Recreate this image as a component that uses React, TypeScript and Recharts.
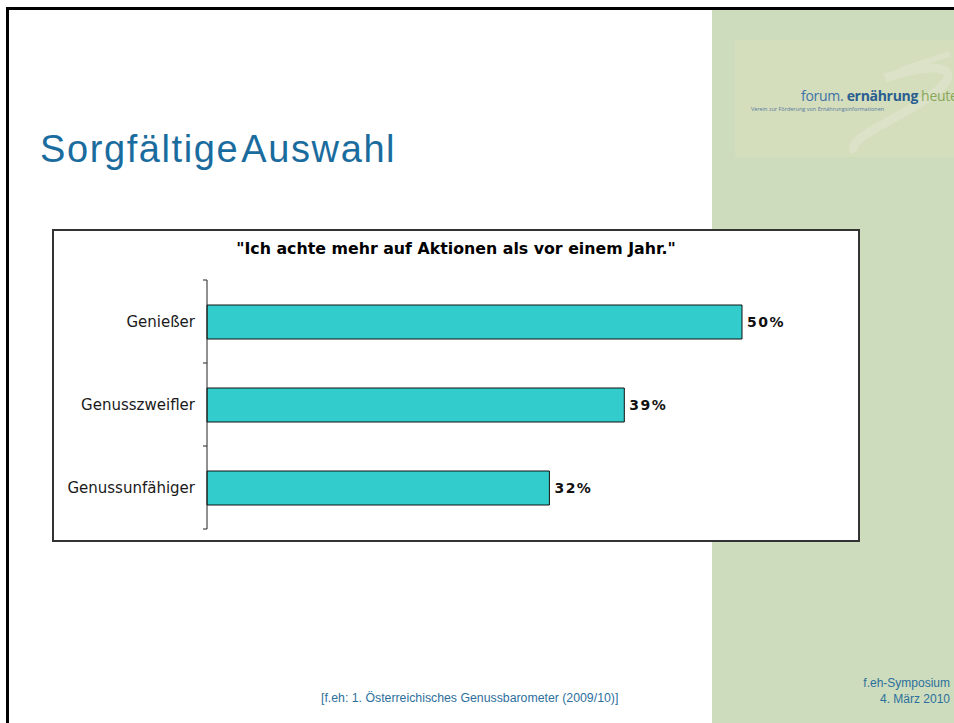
import React from 'react';
import { BarChart, Bar, XAxis, YAxis, LabelList } from 'recharts';

// Umfrage: "Ich achte mehr auf Aktionen als vor einem Jahr."
const groups = ['Genießer', 'Genusszweifler', 'Genussunfähiger'];
const shares = [50, 39, 32];
const axisMax = 60;

const data = groups.map((group, i) => ({ group, share: shares[i] }));

const TICK_SIZE = 4;
const TICK_MARGIN = 8;

const CategoryTick = (props: any) => {
  const { x, y, payload, index } = props;
  const axisX = x + TICK_SIZE + TICK_MARGIN;
  const half = payload && payload.offset ? payload.offset : 41.5;
  return (
    <g>
      <line x1={axisX - TICK_SIZE} y1={y - half} x2={axisX} y2={y - half} stroke="#222" />
      {index === groups.length - 1 && (
        <line x1={axisX - TICK_SIZE} y1={y + half} x2={axisX} y2={y + half} stroke="#222" />
      )}
      <text x={x} y={y} dy="0.355em" textAnchor="end" fontSize={15} fill="#1a1a1a" fontFamily="DejaVu Sans, Verdana, sans-serif">
        {payload.value}
      </text>
    </g>
  );
};

const App: React.FC = () => {
  return (
    <div style={{ position: 'absolute', left: 0, top: 0, width: 954, height: 723, background: '#fff', overflow: 'hidden' }}>
      {/* slide frame */}
      <div style={{ position: 'absolute', left: 6, top: 7, width: 960, height: 3, background: '#000' }} />
      <div style={{ position: 'absolute', left: 6, top: 7, width: 3, height: 730, background: '#000' }} />

      {/* green side panel with logo */}
      <div style={{ position: 'absolute', left: 712, top: 10, width: 250, height: 720, background: '#ccdcbc' }} />
      <div style={{ position: 'absolute', left: 735, top: 40, width: 230, height: 117, background: '#d4ddbc' }}>
        <svg width={230} height={117} style={{ position: 'absolute', left: 0, top: 0 }}>
          <path d="M 150 38 C 210 18, 235 30, 190 60 C 150 85, 110 100, 120 112" stroke="#dbe2c8" strokeWidth={9} fill="none" />
          <path d="M 165 30 L 215 14" stroke="#dbe2c8" strokeWidth={6} fill="none" />
        </svg>
        <div style={{ position: 'absolute', left: 66, top: 46, fontFamily: 'Open Sans, sans-serif', fontSize: 14, whiteSpace: 'nowrap', letterSpacing: -0.3, lineHeight: '19px' }}>
          <span style={{ color: '#3d72a8' }}>forum. </span>
          <span style={{ color: '#2a5d90', fontWeight: 700 }}>ernährung</span>
          <span style={{ color: '#8aa85a', marginLeft: 3 }}>heute</span>
        </div>
        <div style={{ position: 'absolute', left: 16, top: 65, fontFamily: 'Open Sans, sans-serif', fontSize: 5.5, color: '#5a7aa0', whiteSpace: 'nowrap' }}>
          Verein zur Förderung von Ernährungsinformationen
        </div>
      </div>

      {/* slide title */}
      <div style={{ position: 'absolute', left: 40, top: 126, fontFamily: 'Liberation Sans, Arial, sans-serif', fontSize: 38, letterSpacing: 1.6, color: '#1b6c9e', whiteSpace: 'nowrap', wordSpacing: -8, lineHeight: '46px' }}>
        Sorgfältige Auswahl
      </div>

      {/* chart box */}
      <div style={{ position: 'absolute', left: 52, top: 229, width: 808, height: 313, border: '2px solid #333', boxSizing: 'border-box', background: '#fff' }} />
      <div style={{ position: 'absolute', left: 52, top: 240, width: 808, textAlign: 'center', fontFamily: 'DejaVu Sans, Verdana, sans-serif', fontWeight: 700, fontSize: 15.8, color: '#000', lineHeight: '18px' }}>
        "Ich achte mehr auf Aktionen als vor einem Jahr."
      </div>
      <div style={{ position: 'absolute', left: 52, top: 229 }}>
        <BarChart width={808} height={313} data={data} layout="vertical" margin={{ top: 51, right: 11, bottom: 13, left: 0 }}>
          <XAxis type="number" domain={[0, axisMax]} hide />
          <YAxis
            type="category"
            dataKey="group"
            width={155}
            axisLine={{ stroke: '#222' }}
            tickLine={false}
            tickSize={TICK_SIZE}
            tickMargin={TICK_MARGIN}
            tick={<CategoryTick />}
          />
          <Bar dataKey="share" fill="#33cccc" stroke="#111" strokeWidth={1} barSize={34} isAnimationActive={false}>
            <LabelList
              dataKey="share"
              position="right"
              offset={5}
              formatter={(v: any) => `${v}%`}
              fill="#111"
              fontSize={14}
              fontWeight={700}
              letterSpacing={1.5}
              fontFamily="DejaVu Sans, Verdana, sans-serif"
            />
          </Bar>
        </BarChart>
      </div>

      {/* footer */}
      <div style={{ position: 'absolute', left: 321, top: 691, fontFamily: 'Liberation Sans, Arial, sans-serif', fontSize: 12.3, color: '#2d6f9c', whiteSpace: 'nowrap' }}>
        [f.eh: 1. Österreichisches Genussbarometer (2009/10)]
      </div>
      <div style={{ position: 'absolute', right: 4, top: 675, fontFamily: 'Liberation Sans, Arial, sans-serif', fontSize: 12, color: '#2d6f9c', textAlign: 'right', lineHeight: '16px', whiteSpace: 'nowrap' }}>
        f.eh-Symposium
        <br />
        4. März 2010
      </div>
    </div>
  );
};

export default App;
